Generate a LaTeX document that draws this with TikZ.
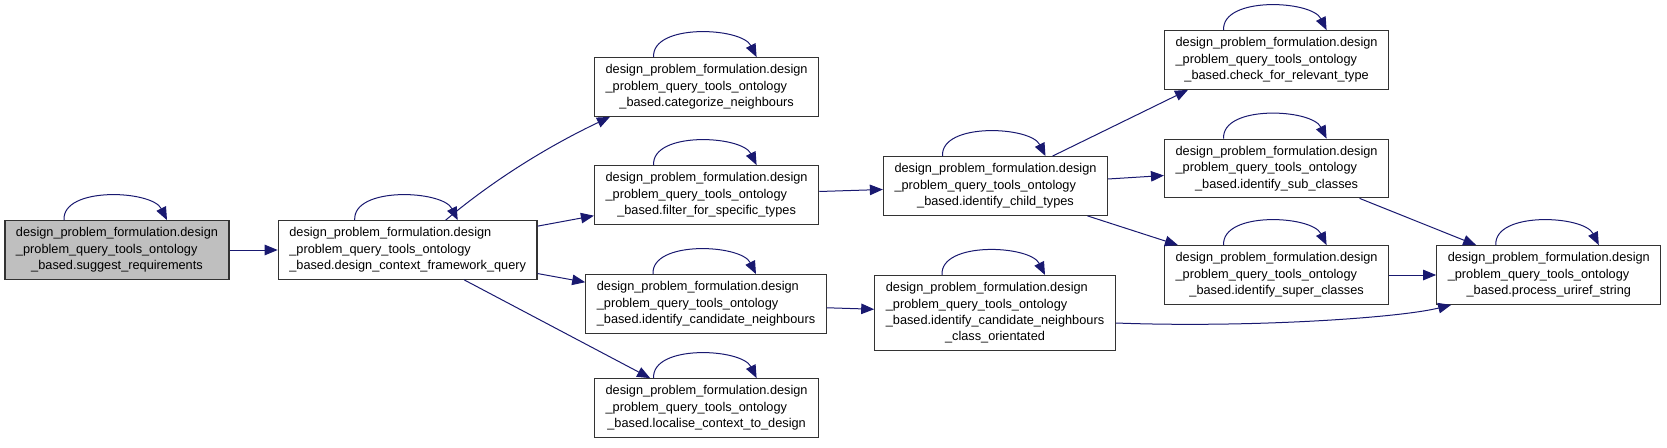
\documentclass[tikz,border=0pt]{standalone}
\usepackage{fontspec}
\setmainfont{Liberation Sans}
\usetikzlibrary{arrows.meta}

\definecolor{navy}{HTML}{191970}
\definecolor{rootgray}{HTML}{BFBFBF}

% first lines left, last line centred
\newcommand{\fnlabel}[2]{\begin{tabular}{@{}l@{}}#1\\\multicolumn{1}{@{}c@{}}{#2}\end{tabular}}

\tikzset{
  fnbox/.style={draw=black!80, line width=1.3pt, fill=white, inner xsep=11pt, inner ysep=4.8pt,
    font=\fontsize{12.75}{16.3}\selectfont},
  call/.style={draw=navy, line width=1pt, -{Triangle[length=13pt,width=10.5pt,fill=navy]}}
}

\begin{document}
\begin{tikzpicture}[x=1pt, y=-1pt]

\useasboundingbox (0,0) rectangle (1667,447);

% COLUMN 1
\node[fnbox, fill=rootgray] (suggest) at (117,250)
  {\fnlabel{design\_problem\_formulation.design\\\_problem\_query\_tools\_ontology}{\_based.suggest\_requirements}};

% COLUMN 2
\node[fnbox] (context) at (407.7,250)
  {\fnlabel{design\_problem\_formulation.design\\\_problem\_query\_tools\_ontology}{\_based.design\_context\_framework\_query}};

% COLUMN 3
\node[fnbox] (categorize) at (706.6,87)
  {\fnlabel{design\_problem\_formulation.design\\\_problem\_query\_tools\_ontology}{\_based.categorize\_neighbours}};
\node[fnbox] (filter) at (706.6,195)
  {\fnlabel{design\_problem\_formulation.design\\\_problem\_query\_tools\_ontology}{\_based.filter\_for\_specific\_types}};
\node[fnbox] (candidates) at (706,304)
  {\fnlabel{design\_problem\_formulation.design\\\_problem\_query\_tools\_ontology}{\_based.identify\_candidate\_neighbours}};
\node[fnbox] (localise) at (706.6,408)
  {\fnlabel{design\_problem\_formulation.design\\\_problem\_query\_tools\_ontology}{\_based.localise\_context\_to\_design}};

% COLUMN 4
\node[fnbox] (childtypes) at (995.5,186)
  {\fnlabel{design\_problem\_formulation.design\\\_problem\_query\_tools\_ontology}{\_based.identify\_child\_types}};
\node[fnbox] (classorient) at (995,313)
  {\fnlabel{design\_problem\_formulation.design\\\_problem\_query\_tools\_ontology\\\_based.identify\_candidate\_neighbours}{\_class\_orientated}};

% COLUMN 5
\node[fnbox] (relevant) at (1276.6,60)
  {\fnlabel{design\_problem\_formulation.design\\\_problem\_query\_tools\_ontology}{\_based.check\_for\_relevant\_type}};
\node[fnbox] (subcls) at (1276.6,168.5)
  {\fnlabel{design\_problem\_formulation.design\\\_problem\_query\_tools\_ontology}{\_based.identify\_sub\_classes}};
\node[fnbox] (supercls) at (1276.6,275)
  {\fnlabel{design\_problem\_formulation.design\\\_problem\_query\_tools\_ontology}{\_based.identify\_super\_classes}};

% COLUMN 6
\node[fnbox] (uriref) at (1548.8,275)
  {\fnlabel{design\_problem\_formulation.design\\\_problem\_query\_tools\_ontology}{\_based.process\_uriref\_string}};

%self loops
\draw[call] ([xshift=-53pt]suggest.north) .. controls +(-2,-34) and +(-15,-30) .. ([xshift=50pt]suggest.north);
\draw[call] ([xshift=-53pt]context.north) .. controls +(-2,-34) and +(-15,-30) .. ([xshift=50pt]context.north);
\draw[call] ([xshift=-53pt]categorize.north) .. controls +(-2,-34) and +(-15,-30) .. ([xshift=50pt]categorize.north);
\draw[call] ([xshift=-53pt]filter.north) .. controls +(-2,-34) and +(-15,-30) .. ([xshift=50pt]filter.north);
\draw[call] ([xshift=-53pt]candidates.north) .. controls +(-2,-34) and +(-15,-30) .. ([xshift=50pt]candidates.north);
\draw[call] ([xshift=-53pt]localise.north) .. controls +(-2,-34) and +(-15,-30) .. ([xshift=50pt]localise.north);
\draw[call] ([xshift=-53pt]childtypes.north) .. controls +(-2,-34) and +(-15,-30) .. ([xshift=50pt]childtypes.north);
\draw[call] ([xshift=-53pt]classorient.north) .. controls +(-2,-34) and +(-15,-30) .. ([xshift=50pt]classorient.north);
\draw[call] ([xshift=-53pt]relevant.north) .. controls +(-2,-34) and +(-15,-30) .. ([xshift=50pt]relevant.north);
\draw[call] ([xshift=-53pt]subcls.north) .. controls +(-2,-34) and +(-15,-30) .. ([xshift=50pt]subcls.north);
\draw[call] ([xshift=-53pt]supercls.north) .. controls +(-2,-34) and +(-15,-30) .. ([xshift=50pt]supercls.north);
\draw[call] ([xshift=-53pt]uriref.north) .. controls +(-2,-34) and +(-15,-30) .. ([xshift=50pt]uriref.north);

%calls from suggest_requirements
\draw[call] (suggest) -- (context);

%calls from design_context_framework_query
\draw[call] ([xshift=38pt]context.north) .. controls +(50,-42) and +(-59,28) .. ([xshift=16pt]categorize.south west);
\draw[call] (context) -- (filter);
\draw[call] (context) -- (candidates);
\draw[call] (context) -- (localise);

%calls further right
\draw[call] (filter) -- (childtypes);
\draw[call] (candidates) -- (classorient);
\draw[call] ([xshift=57pt]childtypes.north) -- ([xshift=24pt]relevant.south west);
\draw[call] (childtypes) -- (subcls);
\draw[call] ([xshift=92pt]childtypes.south) -- ([xshift=14pt]supercls.north west);
\draw[call] ([xshift=83pt]subcls.south) -- ([xshift=40pt]uriref.north west);
\draw[call] (supercls) -- (uriref);
\draw[call] ([yshift=-10pt]classorient.east) .. controls +(134,5) and +(-52,13) .. ([xshift=15pt]uriref.south west);

\end{tikzpicture}
\end{document}
